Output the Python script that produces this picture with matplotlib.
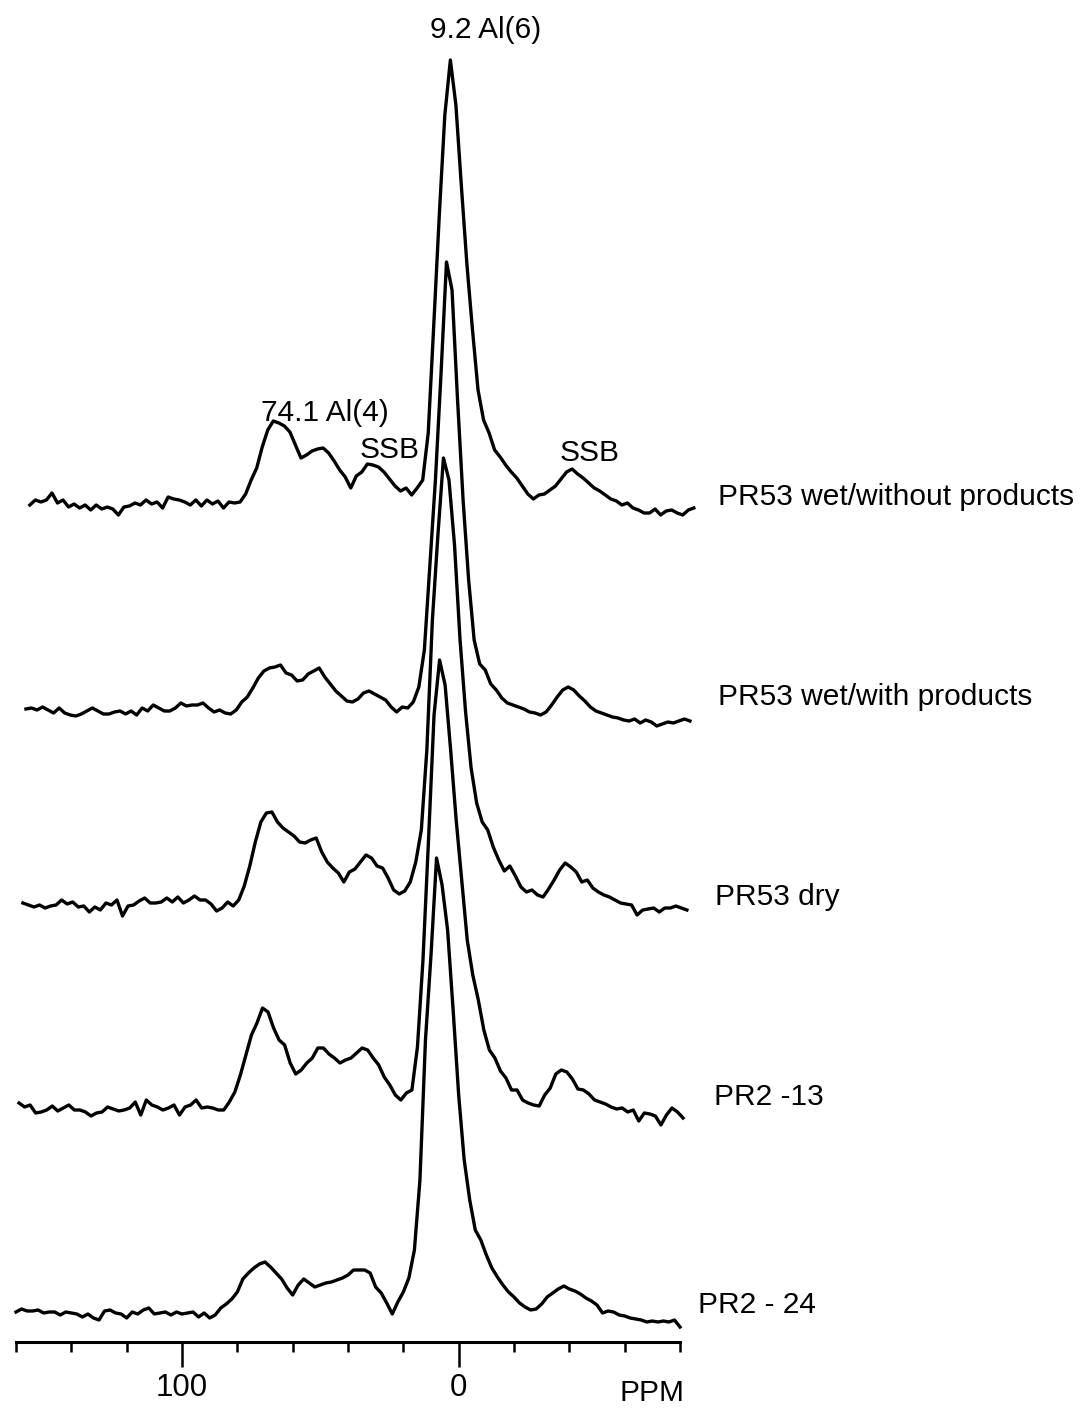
import matplotlib
matplotlib.use("Agg")
import matplotlib.pyplot as plt

plt.rcParams['font.family'] = ['Liberation Sans', 'DejaVu Sans']

# chemical shift axis, ppm (same sampling for every trace)
ppm = [160, 158, 156, 154, 152, 150, 148, 146, 144, 142,
       140, 138, 136, 134, 132, 130, 128, 126, 124, 122,
       120, 118, 116, 114, 112, 110, 108, 106, 104, 102,
       100, 98, 96, 94, 92, 90, 88, 86, 84, 82,
       80, 78, 76, 74, 72, 70, 68, 66, 64, 62,
       60, 58, 56, 54, 52, 50, 48, 46, 44, 42,
       40, 38, 36, 34, 32, 30, 28, 26, 24, 22,
       20, 18, 16, 14, 12, 10, 8, 6, 4, 2,
       0, -2, -4, -6, -8, -10, -12, -14, -16, -18,
       -20, -22, -24, -26, -28, -30, -32, -34, -36, -38,
       -40, -42, -44, -46, -48, -50, -52, -54, -56, -58,
       -60, -62, -64, -66, -68, -70, -72, -74, -76, -78, -80]

# 27Al intensities (arbitrary units) for each sample
pr53_wet_without = [0, 5, 3, 5, 12, 2, 5, -2, 1, -3,
                    0, -5, 0, -4, -2, -4, -10, -2, -1, 2,
                    0, 5, 1, 3, -3, 8, 6, 5, 3, 0,
                    5, -1, 5, 1, 4, -3, 3, 2, 3, 11,
                    25, 37, 58, 75, 84, 82, 79, 73, 60, 47,
                    50, 54, 56, 57, 52, 44, 35, 28, 17, 29,
                    33, 41, 40, 38, 33, 26, 19, 14, 17, 10,
                    17, 25, 72, 180, 290, 390, 445, 400, 318, 240,
                    175, 115, 85, 72, 55, 48, 40, 33, 27, 19,
                    11, 6, 10, 11, 15, 19, 26, 33, 36, 31,
                    27, 22, 17, 14, 10, 6, 4, 0, 2, -3,
                    -5, -8, -8, -4, -10, -6, -5, -8, -10, -5, -3]

pr53_wet_with = [-1, 0, -2, 1, -2, -5, 0, -5, -7, -8,
                 -6, -3, 0, -3, -6, -6, -4, -3, -6, -3,
                 -7, 0, -3, 3, 0, -3, -3, 0, 5, 2,
                 3, 3, 5, 0, -4, -2, -5, -6, -2, 6,
                 11, 20, 30, 37, 40, 41, 43, 35, 33, 27,
                 28, 34, 37, 40, 31, 24, 17, 12, 7, 6,
                 9, 15, 17, 14, 11, 8, 1, -4, 1, 0,
                 6, 21, 58, 143, 228, 333, 446, 418, 308, 208,
                 128, 68, 44, 38, 24, 18, 10, 5, 3, 1,
                 -1, -4, -5, -7, -4, 3, 11, 18, 21, 18,
                 12, 7, 1, -3, -5, -7, -9, -10, -12, -13,
                 -11, -15, -12, -14, -18, -16, -14, -15, -13, -11, -13]

pr53_dry = [2, 0, -2, 0, -3, -1, 0, 5, 1, 3,
            -2, -1, -7, -2, -5, 2, 0, 5, -11, -1,
            0, 4, 7, 2, 2, 3, 7, 3, 8, 2,
            5, 9, 5, 5, 1, -6, -3, 3, -1, 5,
            19, 39, 63, 83, 92, 93, 83, 77, 73, 69,
            63, 62, 65, 67, 53, 43, 37, 32, 23, 33,
            36, 43, 50, 47, 39, 37, 27, 15, 11, 14,
            23, 43, 75, 155, 285, 370, 447, 425, 360, 265,
            193, 137, 102, 83, 75, 58, 45, 34, 39, 29,
            18, 13, 15, 10, 8, 16, 25, 35, 42, 38,
            33, 23, 25, 17, 13, 10, 8, 5, 2, 1,
            0, -10, -5, -4, -3, -7, -3, -3, -1, -3, -5]

pr2_13 = [2, -2, 0, -8, -7, -5, -1, -6, -3, 0,
          -5, -5, -7, -11, -8, -7, -2, -4, -6, -5,
          -3, 3, -10, 5, 0, -2, -5, -3, 0, -10,
          -2, 0, 5, -3, -2, -3, -5, -5, 3, 13,
          30, 50, 70, 82, 97, 93, 77, 65, 60, 42,
          31, 35, 42, 47, 57, 57, 51, 47, 42, 45,
          47, 52, 57, 55, 47, 40, 28, 20, 10, 5,
          12, 15, 58, 145, 265, 390, 445, 420, 355, 285,
          225, 165, 130, 105, 75, 55, 47, 34, 27, 15,
          15, 5, 2, 0, -1, 10, 17, 31, 35, 33,
          26, 16, 15, 11, 5, 3, 1, -2, -4, -3,
          -7, -5, -16, -8, -9, -11, -20, -10, -3, -7, -13]

pr2_24 = [-2, 1, -1, -1, 0, -3, -2, -2, -5, -2,
          -3, -4, -7, -4, -8, -10, -1, 0, -3, -4,
          -8, -2, -4, 0, 2, -4, -3, -2, -5, -2,
          -4, -3, -2, -7, -3, -8, -5, 2, 6, 11,
          18, 31, 37, 42, 46, 48, 43, 37, 31, 22,
          15, 25, 31, 27, 23, 25, 27, 28, 30, 32,
          35, 40, 40, 40, 37, 23, 17, 7, -4, 8,
          18, 32, 60, 130, 270, 355, 452, 425, 380, 300,
          215, 150, 110, 80, 70, 55, 42, 33, 25, 18,
          13, 7, 3, 0, 1, 6, 13, 17, 21, 24,
          21, 19, 16, 12, 9, 5, -3, -1, -2, -5,
          -6, -8, -9, -10, -12, -11, -12, -11, -12, -10, -17]

sample_names = ["PR53 wet/without products", "PR53 wet/with products",
                "PR53 dry", "PR2 -13", "PR2 - 24"]
spectra = [pr53_wet_without, pr53_wet_with, pr53_dry, pr2_13, pr2_24]

# stacking: vertical offset and small horizontal skew of each trace
offsets = [837, 634, 437, 237, 32]
shifts = [5.0, 3.6, 2.5, 1.1, 0.0]
name_pos = [(-93.7, 845), (-93.7, 645), (-92.6, 445), (-92.3, 245), (-86.5, 37)]

fig = plt.figure(figsize=(10.83, 14.11), dpi=100)
ax = fig.add_axes([16 / 1083, 1 - 1342 / 1411, 664 / 1083, 1342 / 1411])

for inten, off, sh in zip(spectra, offsets, shifts):
    ax.plot([p - sh for p in ppm], [v + off for v in inten],
            color='black', lw=2.4, clip_on=False, solid_joinstyle='round')

for name, (x, y) in zip(sample_names, name_pos):
    ax.text(x, y, name, fontsize=21.5, ha='left', va='center')

# peak assignments
ax.text(-9.9, 1312, "9.2 Al(6)", fontsize=21.5, ha='center', va='center')
ax.text(48.3, 929, "74.1 Al(4)", fontsize=21.5, ha='center', va='center')
ax.text(24.8, 892, "SSB", fontsize=21.5, ha='center', va='center')
ax.text(-47.5, 889, "SSB", fontsize=21.5, ha='center', va='center')
ax.text(-70, -51, "PPM", fontsize=21.5, ha='center', va='center')

ax.set_xlim(160, -80)
ax.set_ylim(0, 1342)
ax.set_xticks([100, 0], labels=["100", "0"])
ax.set_xticks([160, 140, 120, 80, 60, 40, 20, -20, -40, -60, -80], minor=True)
ax.tick_params(axis='x', which='major', length=18, width=1.8, direction='out',
               labelsize=22.5, pad=4)
ax.tick_params(axis='x', which='minor', length=7, width=1.8, direction='out')
ax.set_yticks([])
for side in ['top', 'left', 'right']:
    ax.spines[side].set_visible(False)
ax.spines['bottom'].set_linewidth(2.2)
ax.patch.set_alpha(0)

fig.savefig("out.png", dpi=100)
